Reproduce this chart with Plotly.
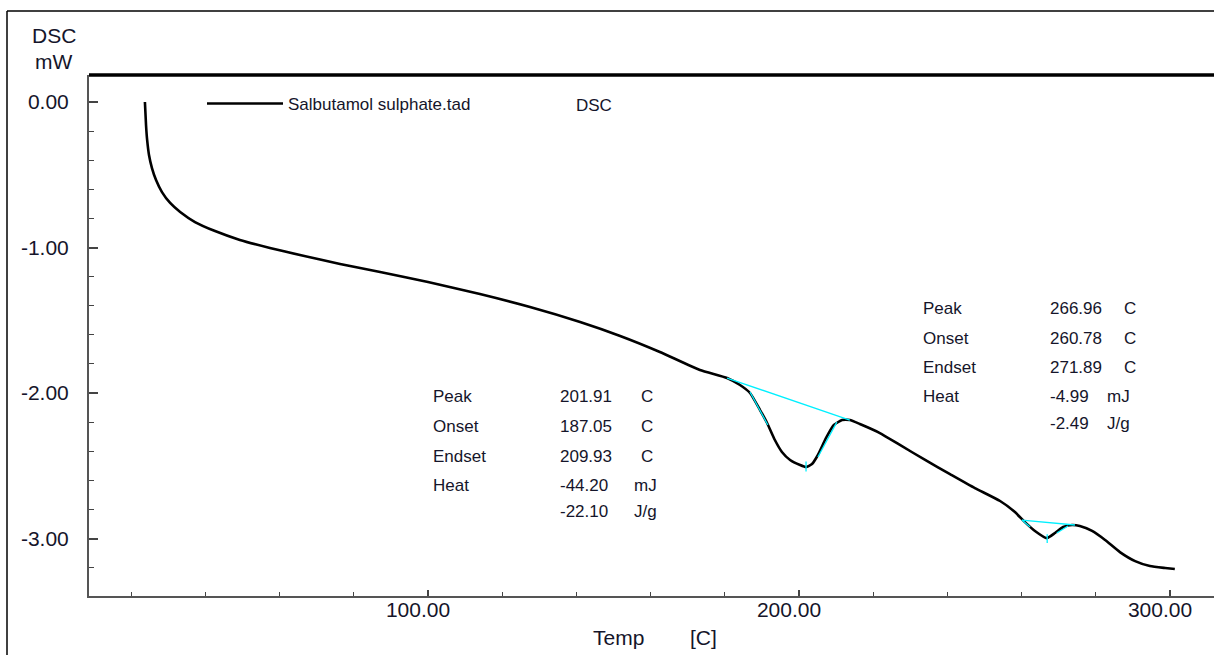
import plotly.graph_objects as go

# ---- data ----
temp_c = [23.7, 24.0, 24.3, 24.8, 25.6, 26.7, 28.3, 30.5, 33.2, 37.2, 42.6, 49.3, 57.4, 65.5,
          76.3, 87.1, 100.0, 114.0, 127.5, 141.0, 151.8, 162.5, 173.3, 180.6, 184.1, 186.8,
          189.5, 191.4, 193.5, 195.4, 197.6, 200.3, 201.9, 203.5, 205.1, 207.3, 209.4, 211.6,
          213.7, 216.4, 221.8, 227.2, 234.0, 240.7, 247.4, 254.2, 258.2, 260.9, 263.6, 266.8,
          269.0, 271.2, 273.6, 275.7, 279.0, 282.5, 286.5, 290.6, 294.6, 298.7, 301.3]
dsc_mw = [0.000, -0.158, -0.261, -0.364, -0.454, -0.536, -0.619, -0.694, -0.756, -0.825, -0.887,
          -0.948, -1.003, -1.052, -1.113, -1.168, -1.237, -1.320, -1.409, -1.512, -1.608, -1.718,
          -1.842, -1.897, -1.945, -2.000, -2.117, -2.206, -2.323, -2.405, -2.460, -2.495, -2.509,
          -2.488, -2.426, -2.309, -2.220, -2.186, -2.186, -2.213, -2.275, -2.357, -2.460, -2.557,
          -2.653, -2.742, -2.818, -2.887, -2.948, -2.997, -2.962, -2.921, -2.907, -2.914, -2.948,
          -3.010, -3.093, -3.155, -3.189, -3.203, -3.210]

# analysis helper lines (cyan), segments separated by None
peak1_lines_x = [180.6, 213.7, None, 186.8, 191.6, None, 205.1, 210.2, None, 201.9, 201.9]
peak1_lines_y = [-1.897, -2.186, None, -1.993, -2.220, None, -2.440, -2.200, None, -2.470, -2.540]
peak2_lines_x = [260.1, 274.4, None, 260.1, 262.3, None, 269.5, 272.5, None, 266.9, 266.9]
peak2_lines_y = [-2.873, -2.907, None, -2.873, -2.921, None, -2.962, -2.914, None, -2.970, -3.030]

peak1_labels = ["Peak", "Onset", "Endset", "Heat", ""]
peak1_values = ["201.91", "187.05", "209.93", "-44.20", "-22.10"]
peak1_units = ["C", "C", "C", "mJ", "J/g"]
peak2_labels = ["Peak", "Onset", "Endset", "Heat", ""]
peak2_values = ["266.96", "260.78", "271.89", "-4.99", "-2.49"]
peak2_units = ["C", "C", "C", "mJ", "J/g"]

y_tickvals = [0, -1, -2, -3]
y_ticktext = ["0.00", "-1.00", "-2.00", "-3.00"]
x_tickvals = [100, 200, 300]
x_ticktext = ["100.00", "200.00", "300.00"]

FONT = "Liberation Sans, Arial, sans-serif"
TXT = "#15152a"

fig = go.Figure()
fig.add_trace(go.Scatter(x=temp_c, y=dsc_mw, mode="lines", name="Salbutamol sulphate.tad",
                         line=dict(color="black", width=2.6, shape="spline", smoothing=0.5),
                         showlegend=True))
fig.add_trace(go.Scatter(x=peak1_lines_x, y=peak1_lines_y, mode="lines",
                         line=dict(color="#00f0ff", width=1.3), showlegend=False))
fig.add_trace(go.Scatter(x=peak2_lines_x, y=peak2_lines_y, mode="lines",
                         line=dict(color="#00f0ff", width=1.3), showlegend=False))

W, H = 1214, 655
L, R, T, B = 89, 0, 75, 59
pw, ph = W - L - R, H - T - B


def px(xp):
    return (xp - L) / pw


def py(yp):
    return (H - B - yp) / ph


ann = []


def text(x, y, s, size=17, anchor="left"):
    ann.append(dict(x=px(x), y=py(y), xref="paper", yref="paper", text=s, showarrow=False,
                    xanchor=anchor, yanchor="middle", font=dict(family=FONT, size=size, color=TXT)))


# axis titles
text(54, 35, "DSC", 21, "center")
text(53, 62, "mW", 21, "center")
text(618, 637, "Temp", 21, "center")
text(703, 637, "[C]", 21, "center")
text(574, 105, "DSC", 17)

# peak result blocks
ys1 = [396, 426, 456, 485, 511]
for i in range(5):
    if peak1_labels[i]:
        text(431, ys1[i], peak1_labels[i])
    text(558, ys1[i], peak1_values[i])
    text(639 if peak1_units[i] == "C" else 632, ys1[i], peak1_units[i])
ys2 = [308, 338, 367, 396, 423]
for i in range(5):
    if peak2_labels[i]:
        text(921, ys2[i], peak2_labels[i])
    text(1048, ys2[i], peak2_values[i])
    text(1122 if peak2_units[i] == "C" else 1105, ys2[i], peak2_units[i])

shapes = [
    # thick top frame line of the plot
    dict(type="line", xref="paper", yref="paper", x0=0, x1=1, y0=1, y1=1,
         line=dict(color="black", width=3.5)),
    # outer window border
    dict(type="line", xref="paper", yref="paper", x0=px(7), x1=px(7), y0=py(11), y1=py(660),
         line=dict(color="black", width=1.5)),
    dict(type="line", xref="paper", yref="paper", x0=px(7), x1=px(1220), y0=py(11), y1=py(11),
         line=dict(color="black", width=1.5)),
]

fig.update_layout(
    width=W, height=H,
    margin=dict(l=L, r=R, t=T, b=B, pad=0),
    paper_bgcolor="white", plot_bgcolor="white",
    font=dict(family=FONT, color=TXT),
    annotations=ann, shapes=shapes,
    legend=dict(x=px(202), y=py(104), xanchor="left", yanchor="middle",
                bgcolor="rgba(0,0,0,0)", font=dict(family=FONT, size=17, color=TXT),
                itemwidth=76),
    xaxis=dict(range=[8.63, 311.86], showgrid=False, zeroline=False, showline=True,
               linecolor="#555", linewidth=2, ticks="inside", ticklen=6, tickcolor="#444",
               tickwidth=1.5, tickvals=x_tickvals, ticktext=x_ticktext,
               tickfont=dict(family=FONT, size=21, color=TXT),
               ticklabelshift=-10, ticklabelstandoff=-6,
               minor=dict(dtick=20, tick0=0, ticks="inside", ticklen=4, tickcolor="#444",
                          tickwidth=1.2)),
    yaxis=dict(range=[-3.395, 0.1856], showgrid=False, zeroline=False, showline=True,
               linecolor="#555", linewidth=2, ticks="inside", ticklen=9, tickcolor="#444",
               tickwidth=1.5, tickvals=y_tickvals, ticktext=y_ticktext,
               tickfont=dict(family=FONT, size=21, color=TXT), ticklabelstandoff=14,
               minor=dict(dtick=0.2, tick0=0, ticks="inside", ticklen=5, tickcolor="#444",
                          tickwidth=1.2)),
)

fig.write_html("out.html")
